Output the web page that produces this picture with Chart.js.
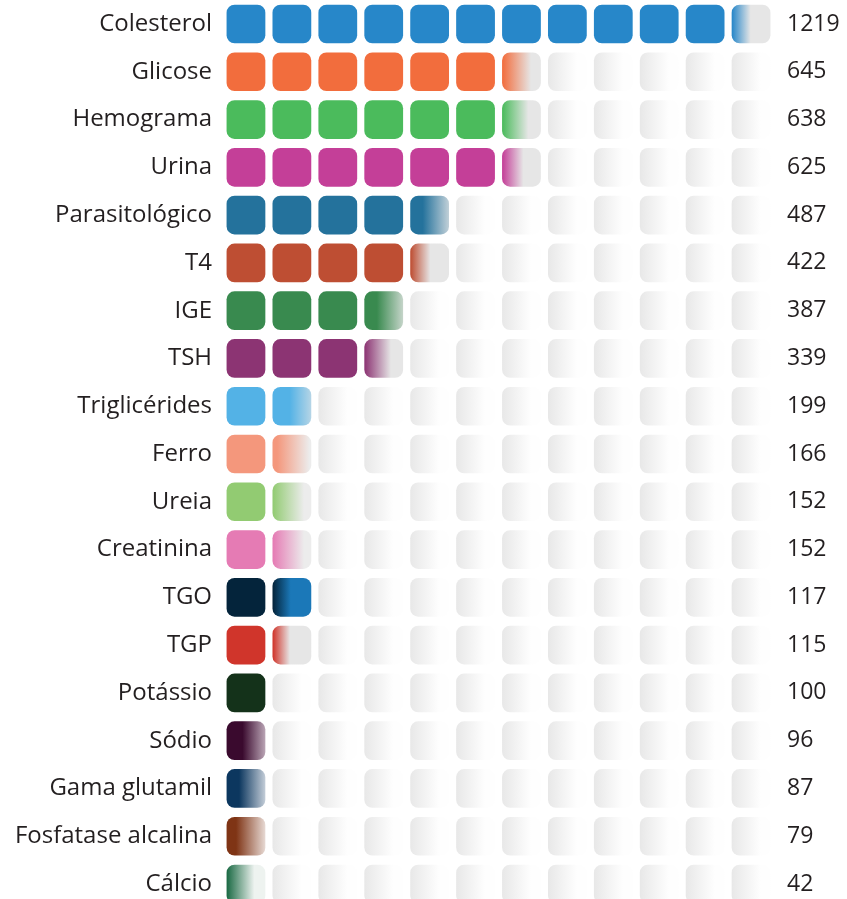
<!DOCTYPE html>
<html>
<head>
<meta charset="utf-8">
<script src="https://cdn.jsdelivr.net/npm/chart.js@4"></script>
<style>
  html, body { margin: 0; padding: 0; background: #ffffff; }
  #wrap { width: 847px; height: 899px; position: relative; }
</style>
</head>
<body>
<div id="wrap"><canvas id="c"></canvas></div>
<script>
const categories = ["Colesterol","Glicose","Hemograma","Urina","Parasitológico","T4","IGE","TSH","Triglicérides","Ferro","Ureia","Creatinina","TGO","TGP","Potássio","Sódio","Gama glutamil","Fosfatase alcalina","Cálcio"];
const values = [1219,645,638,625,487,422,387,339,199,166,152,152,117,115,100,96,87,79,42];
const colors = ["#2787c9","#f26d3d","#4bbb5c","#c43f98","#24729c","#be4e33","#398a4f","#8c3473","#53b2e6","#f4977c","#92cb72","#e57bb4","#04243b","#d0352b","#14321a","#3a0a2e","#0c375f","#7f3415","#1b6a44"];
const fadeColors = ["#e6e6e6","#e6e6e6","#e6e6e6","#e6e6e6","#e6e6e6","#e6e6e6","#e6e6e6","#e6e6e6","#e6e6e6","#ececec","#ececec","#ececec","#1b78b8","#e6e6e6","#e6e6e6","#f0e6ee","#eef0f4","#f2ebe8","#eef3f0"];
const valueLabels = values.map(String);
const UNIT = 100;
const BOXES = 12;
const GAP = 0.17;

function boxFill(i, j) {
  const v = values[i] / UNIT;
  const whole = Math.floor(v);
  const full = Math.min(whole, BOXES - 1);
  const frac = v - whole;
  if (j < full) return { type: 'full' };
  if (j === full && frac > 0.001) return { type: 'part', f: frac };
  return { type: 'empty' };
}

function bg(ctx) {
  const chart = ctx.chart;
  const i = ctx.dataIndex, j = ctx.datasetIndex;
  if (i === undefined || i === null) return '#e8e8e8';
  const st = boxFill(i, j);
  if (st.type === 'full') return colors[i];
  const xs = chart.scales && chart.scales.x;
  if (!chart.chartArea || !xs) return '#eeeeee';
  const x0 = xs.getPixelForValue(j + GAP / 2);
  const x1 = xs.getPixelForValue(j + 1 - GAP / 2);
  const w = x1 - x0;
  const c2 = chart.ctx;
  if (st.type === 'part') {
    const a = x0 + Math.max(0, st.f - 0.55) * w;
    const b = x0 + (st.f + 0.3) * w;
    const g = c2.createLinearGradient(a, 0, b, 0);
    g.addColorStop(0, colors[i]);
    g.addColorStop(1, fadeColors[i]);
    return g;
  }
  const g = c2.createLinearGradient(x0, 0, x0 + 0.75 * w, 0);
  g.addColorStop(0, '#e8e8e8');
  g.addColorStop(1, '#fefefe');
  return g;
}

const datasets = [];
for (let j = 0; j < BOXES; j++) {
  datasets.push({
    data: categories.map(() => [j + GAP / 2, j + 1 - GAP / 2]),
    backgroundColor: bg,
    borderWidth: 0,
    borderRadius: 8,
    borderSkipped: false,
    barThickness: 38,
    grouped: false,
    clip: false,
    yAxisID: 'y'
  });
}

const FAMILY = "'Open Sans', 'DejaVu Sans', sans-serif";

function fitY(width) {
  return (s) => { s.width = width; s.paddingTop = 0; s.paddingBottom = 0; };
}

new Chart(document.getElementById('c'), {
  type: 'bar',
  data: { labels: categories, datasets },
  options: {
    indexAxis: 'y',
    responsive: true,
    maintainAspectRatio: false,
    animation: false,
    layout: { padding: { top: 24, bottom: 15, left: 0, right: 0 } },
    plugins: { legend: { display: false }, tooltip: { enabled: false } },
    scales: {
      x: { type: 'linear', min: 0, max: BOXES, display: false },
      y: {
        type: 'category', position: 'left', offset: false,
        grid: { display: false, drawTicks: false }, border: { display: false },
        ticks: { color: '#231f20', font: { family: FAMILY, size: 24 }, padding: 11, autoSkip: false },
        afterFit: fitY(223)
      },
      y2: {
        type: 'category', position: 'right', offset: false, labels: valueLabels,
        grid: { display: false, drawTicks: false }, border: { display: false },
        ticks: { color: '#231f20', font: { family: FAMILY, size: 23 }, padding: 13, autoSkip: false },
        afterFit: fitY(73)
      }
    }
  }
});
</script>
</body>
</html>
